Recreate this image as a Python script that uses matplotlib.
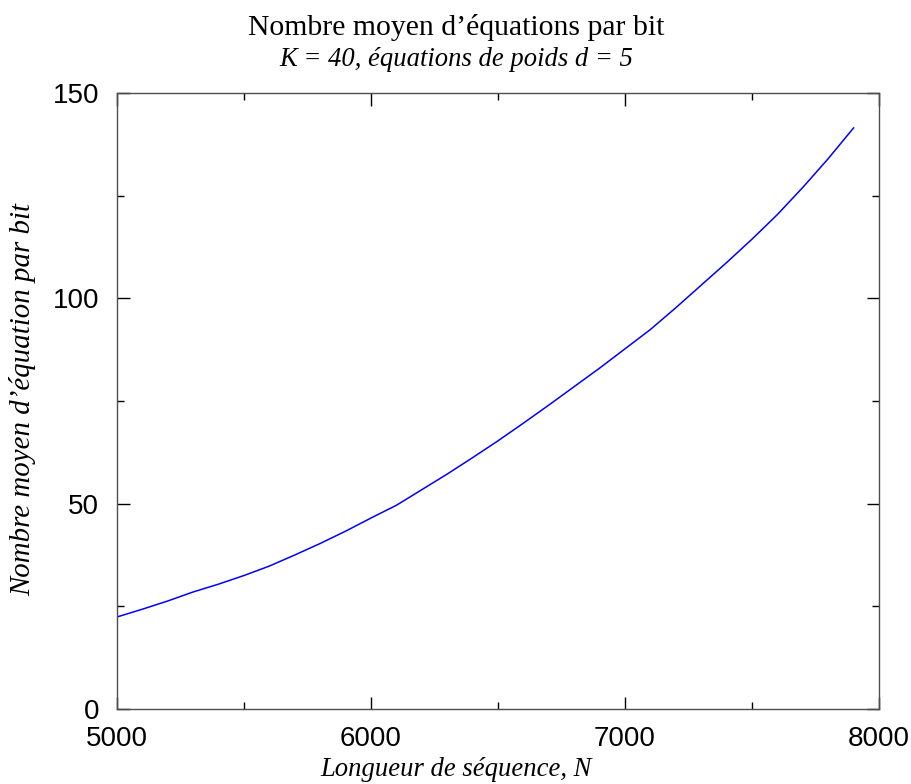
import matplotlib
matplotlib.use("Agg")
import matplotlib.pyplot as plt
from matplotlib.ticker import MultipleLocator

# Courbe (pas de 100)
longueur_n = [5000, 5100, 5200, 5300, 5400, 5500, 5600, 5700, 5800, 5900,
              6000, 6100, 6200, 6300, 6400, 6500, 6600, 6700, 6800, 6900,
              7000, 7100, 7200, 7300, 7400, 7500, 7600, 7700, 7800, 7900]
nb_equations = [22.4, 24.3, 26.3, 28.5, 30.4, 32.5, 34.8, 37.5, 40.3, 43.3,
                46.5, 49.6, 53.4, 57.2, 61.2, 65.3, 69.6, 74.0, 78.5, 83.0,
                87.7, 92.4, 97.7, 103.2, 108.7, 114.4, 120.4, 127.0, 134.0, 141.5]
x_ticks = [5000, 6000, 7000, 8000]
y_ticks = [0, 50, 100, 150]

serif = "Liberation Serif"
sans = "Liberation Sans"

fig = plt.figure(figsize=(9.12, 7.84), dpi=100)
ax = fig.add_axes([0.1283, 0.0957, 0.8355, 0.7857])

ax.plot(longueur_n, nb_equations, color="#0000ff", linewidth=1.1)

ax.set_xlim(5000, 8000)
ax.set_ylim(0, 150)
ax.set_xticks(x_ticks)
ax.set_yticks(y_ticks)
ax.xaxis.set_minor_locator(MultipleLocator(500))
ax.yaxis.set_minor_locator(MultipleLocator(25))
ax.tick_params(which="both", direction="in", top=True, right=True, color="black", width=1)
ax.tick_params(which="major", length=9, labelsize=20)
ax.tick_params(which="minor", length=5)
ax.tick_params(axis="x", which="major", pad=12)
ax.tick_params(axis="y", which="major", pad=13)
for lab in ax.get_xticklabels() + ax.get_yticklabels():
    lab.set_fontfamily(sans)
for s in ax.spines.values():
    s.set_color("0.3")
    s.set_linewidth(1)

fig.text(0.5, 0.965, "Nombre moyen d\u2019équations par bit", ha="center", va="center",
         fontfamily=serif, fontsize=21.4)
fig.text(0.5, 0.924, "K = 40, équations de poids d = 5", ha="center", va="center",
         fontfamily=serif, fontstyle="italic", fontsize=19.2)
fig.text(0.5, 0.018, "Longueur de séquence, N", ha="center", va="center",
         fontfamily=serif, fontstyle="italic", fontsize=19.2)
fig.text(0.025, 0.49, "Nombre moyen d\u2019équation par bit", ha="center", va="center",
         rotation=90, fontfamily=serif, fontstyle="italic", fontsize=20.8)

fig.savefig("out.png", dpi=100)
